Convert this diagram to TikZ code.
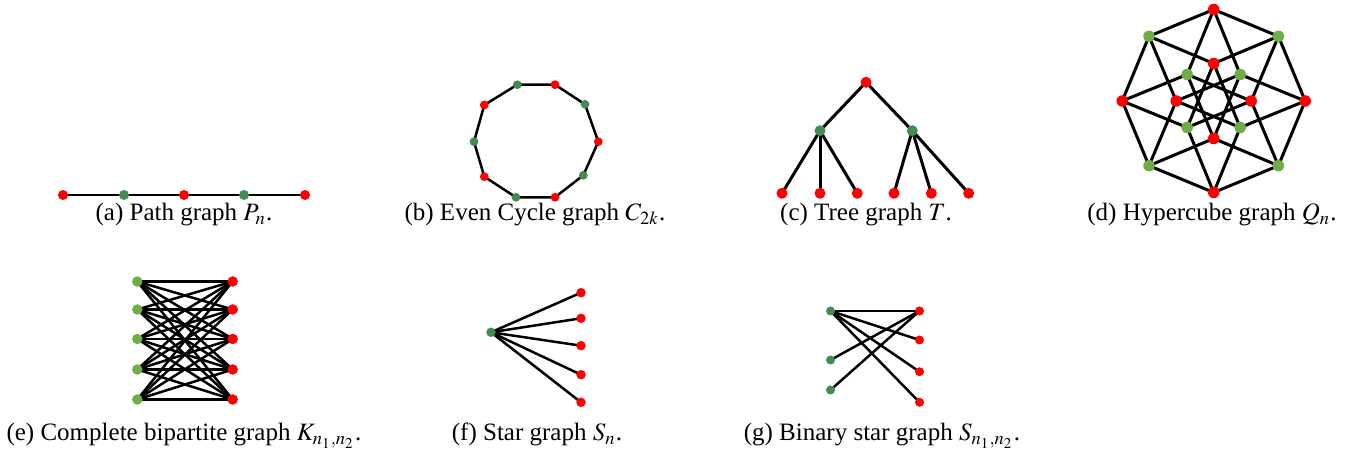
\documentclass[tikz,border=0pt]{standalone}
\usepackage{mathptmx}
\usepackage{fontspec}
\setmainfont{Liberation Serif}
\pgfdeclarelayer{bg}
\pgfsetlayers{bg,main}
\definecolor{dg}{RGB}{66,140,84}
\definecolor{lg}{RGB}{112,173,71}
\definecolor{rd}{RGB}{255,0,0}
\tikzset{
  vtx/.style={circle,inner sep=0pt,draw=none,minimum size=#1},
  vtx/.default=4pt,
  rv/.style={vtx=#1,fill=rd}, rv/.default=4pt,
  gv/.style={vtx=#1,fill=dg}, gv/.default=4pt,
  lv/.style={vtx=#1,fill=lg}, lv/.default=4pt,
  edge/.style={line width=1pt,black},
  captext/.style={anchor=base,font=\fontsize{10}{12}\selectfont,inner sep=0pt}
}
\begin{document}
\begin{tikzpicture}[x=0.4pt,y=-0.4pt]
\useasboundingbox (0,0) rectangle (1362,457);
% (a) path
\node[rv] (a1) at (63,195) {};
\node[gv] (a2) at (124,195) {};
\node[rv] (a3) at (184,195) {};
\node[gv] (a4) at (244,195) {};
\node[rv] (a5) at (305,195) {};
\begin{pgfonlayer}{bg}
\draw[edge] (a1.center) -- (a2.center) -- (a3.center) -- (a4.center) -- (a5.center);
\end{pgfonlayer}
\node[captext] (capa) at (184,220.5) {(a) Path graph $P_n$.};
% (b) even cycle
\node[gv=3.5pt] (b1) at (517.3,84.7) {};
\node[rv=3.5pt] (b2) at (555,84.7) {};
\node[gv=3.5pt] (b3) at (585,104.3) {};
\node[rv=3.5pt] (b4) at (598.3,141.7) {};
\node[gv=3.5pt] (b5) at (583.3,175.3) {};
\node[rv=3.5pt] (b6) at (555,197.3) {};
\node[gv=3.5pt] (b7) at (516,197.3) {};
\node[rv=3.5pt] (b8) at (484.3,176.7) {};
\node[gv=3.5pt] (b9) at (474,141.7) {};
\node[rv=3.5pt] (b10) at (484.3,105) {};
\begin{pgfonlayer}{bg}
\draw[edge] (b1.center) -- (b2.center) -- (b3.center) -- (b4.center) -- (b5.center) -- (b6.center) -- (b7.center) -- (b8.center) -- (b9.center) -- (b10.center) -- cycle;
\end{pgfonlayer}
\node[captext] (capb) at (535,220.5) {(b) Even Cycle graph $C_{2k}$.};
% (c) tree
\node[rv=4.4pt] (c0) at (866,82.3) {};
\node[gv=4.4pt] (cl) at (820,130.7) {};
\node[gv=4.4pt] (cr) at (912.3,130.7) {};
\node[rv=4.4pt] (c1) at (782,193.3) {};
\node[rv=4.4pt] (c2) at (820,193.3) {};
\node[rv=4.4pt] (c3) at (857.3,193.3) {};
\node[rv=4.4pt] (c4) at (894,193.3) {};
\node[rv=4.4pt] (c5) at (931.3,193.3) {};
\node[rv=4.4pt] (c6) at (968.7,193.3) {};
\begin{pgfonlayer}{bg}
\draw[edge,line width=1.2pt] (cl.center) -- (c0.center) -- (cr.center);
\foreach \i in {1,2,3} \draw[edge,line width=1.2pt] (cl.center) -- (c\i.center);
\foreach \i in {4,5,6} \draw[edge,line width=1.2pt] (cr.center) -- (c\i.center);
\end{pgfonlayer}
\node[captext] (capc) at (866,220.5) {(c) Tree graph $T$.};
% (d) hypercube
\foreach \k in {0,...,7}{
  \pgfmathtruncatemacro{\parity}{mod(\k,2)}
  \ifnum\parity=0
    \node[rv=4.6pt] (O\k) at ({1213.7+91.5*cos(45*\k)},{101-91.5*sin(45*\k)}) {};
    \node[rv=4.6pt] (I\k) at ({1213.7+37.5*cos(45*\k)},{101-37.5*sin(45*\k)}) {};
  \else
    \node[lv=4.6pt] (O\k) at ({1213.7+91.5*cos(45*\k)},{101-91.5*sin(45*\k)}) {};
    \node[lv=4.6pt] (I\k) at ({1213.7+37.5*cos(45*\k)},{101-37.5*sin(45*\k)}) {};
  \fi
}
\begin{pgfonlayer}{bg}
\foreach \k in {0,...,7}{
  \pgfmathtruncatemacro{\nx}{mod(\k+1,8)}
  \pgfmathtruncatemacro{\tx}{mod(\k+3,8)}
  \draw[edge,line width=1.2pt] (O\k.center) -- (O\nx.center);
  \draw[edge,line width=1.2pt] (O\k.center) -- (I\nx.center);
  \draw[edge,line width=1.2pt] (I\k.center) -- (O\nx.center);
  \draw[edge,line width=1.2pt] (I\k.center) -- (I\tx.center);
}
\end{pgfonlayer}
\node[captext] (capd) at (1212,220.5) {(d) Hypercube graph $Q_n$.};
% (e) complete bipartite
\foreach \i/\y in {1/281.5,2/309.5,3/339,4/369.5,5/399.5}{
  \node[lv=4.2pt] (L\i) at (137.3,\y) {};
  \node[rv=4.2pt] (R\i) at (232.7,\y) {};
}
\begin{pgfonlayer}{bg}
\foreach \i in {1,...,5}{
  \foreach \j in {1,...,5}{
    \draw[edge] (L\i.center) -- (R\j.center);
  }
}
\end{pgfonlayer}
\node[captext] (cape) at (184,441) {(e) Complete bipartite graph $K_{n_1,n_2}$.};
% (f) star
\node[gv=3.8pt] (s0) at (491,332.3) {};
\foreach \i/\y in {1/292.7,2/318.3,3/345.7,4/374.7,5/402.3}{
  \node[rv=3.8pt] (s\i) at (581,\y) {};
}
\begin{pgfonlayer}{bg}
\foreach \i in {1,...,5} \draw[edge] (s0.center) -- (s\i.center);
\end{pgfonlayer}
\node[captext] (capf) at (537,441) {(f) Star graph $S_n$.};
% (g) binary star
\node[gv=3.6pt] (g1) at (830.5,311) {};
\node[gv=3.6pt] (g2) at (830.5,360) {};
\node[gv=3.6pt] (g3) at (830.5,390) {};
\node[rv=3.6pt] (h1) at (919.5,311) {};
\node[rv=3.6pt] (h2) at (919.5,340) {};
\node[rv=3.6pt] (h3) at (919.5,371.7) {};
\node[rv=3.6pt] (h4) at (919.5,402.3) {};
\begin{pgfonlayer}{bg}
\foreach \i in {1,...,4} \draw[edge] (g1.center) -- (h\i.center);
\foreach \i in {2,3} \draw[edge] (h1.center) -- (g\i.center);
\end{pgfonlayer}
\node[captext] (capg) at (882,441) {(g) Binary star graph $S_{n_1,n_2}$.};
\end{tikzpicture}
\end{document}
